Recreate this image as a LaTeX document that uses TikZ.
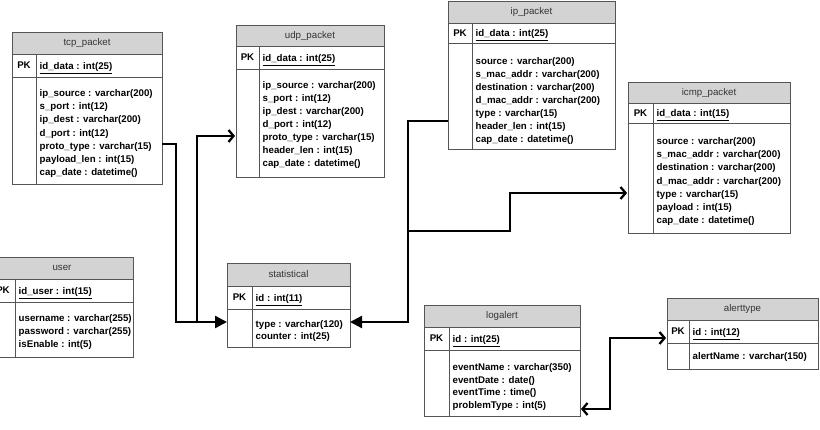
\documentclass[tikz,border=0pt]{standalone}
\usepackage{fontspec}
\setmainfont{Liberation Sans}
\usetikzlibrary{arrows.meta}
\definecolor{hdr}{HTML}{D3D3D3}
\definecolor{edgec}{HTML}{555555}
\tikzset{
  tabline/.style={draw=edgec, line width=0.9pt},
  hdrfill/.style={fill=hdr},
  ttl/.style={font=\fontsize{9.7}{11}\selectfont, text=black!80, inner sep=0pt},
  pklbl/.style={font=\bfseries\fontsize{9.7}{11}\selectfont, inner sep=0pt},
  keytxt/.style={font=\bfseries\fontsize{9.7}{11}\selectfont, inner sep=0pt, anchor=base west},
  attrtxt/.style={font=\bfseries\fontsize{9.7}{11}\selectfont, inner sep=0pt, anchor=base west},
  conn/.style={line width=2.3pt, black},
  filledarr/.style={-{Triangle[length=12pt,width=12pt]}},
  openarr/.style={-{Straight Barb[length=5pt,width=12pt]}},
  openboth/.style={{Straight Barb[length=5pt,width=12pt]}-{Straight Barb[length=5pt,width=12pt]}},
}
% #1 name, #2 left, #3 top, #4 right, #5 header bottom, #6 pk bottom, #7 bottom, #8 divider, #9 title
\newcommand\ertab[9]{%
  \fill[hdrfill] (#2,#3) rectangle (#4,#5);
  \draw[tabline] (#2,#3) rectangle (#4,#7);
  \draw[tabline] (#2,#5) -- (#4,#5) (#2,#6) -- (#4,#6) (#8,#5) -- (#8,#7);
  \node[ttl] (#1) at ({(#2+#4)/2},{(#3+#5)/2}) {#9};
  \node[pklbl] (#1-pk) at ({(#2+#8)/2},{(#5+#6)/2}) {PK};
}
% #1 name, #2 x, #3 first baseline, #4 line step, #5 lines
\newcommand\attrlines[5]{%
  \foreach \t [count=\i from 0] in {#5} {%
    \node[attrtxt] (#1-a\i) at (#2,{#3+\i*#4}) {\t};
  }%
}
\begin{document}
\begin{tikzpicture}[x=1pt,y=-1pt]
\useasboundingbox (0,0) rectangle (820,430);

% tcp_packet
\ertab{tcp}{12}{32}{162}{54}{77}{184}{36}{tcp\_packet}
\node[keytxt] (tcp-key) at (39.5,69.5) {\underline{id\_data : int(25)}};
\attrlines{tcp}{39.5}{96.5}{13.17}{ip\_source : varchar(200),s\_port : int(12),ip\_dest : varchar(200),d\_port : int(12),proto\_type : varchar(15),payload\_len : int(15),cap\_date : datetime()}

% udp_packet
\ertab{udp}{236}{25}{384}{46}{69}{177}{259}{udp\_packet}
\node[keytxt] (udp-key) at (262.5,61.5) {\underline{id\_data : int(25)}};
\attrlines{udp}{262.5}{88.5}{13}{ip\_source : varchar(200),s\_port : int(12),ip\_dest : varchar(200),d\_port : int(12),proto\_type : varchar(15),header\_len : int(15),cap\_date : datetime()}

% ip_packet
\ertab{ip}{448}{1}{615}{23}{43}{149}{472}{ip\_packet}
\node[keytxt] (ip-key) at (475.5,36.5) {\underline{id\_data : int(25)}};
\attrlines{ip}{475.5}{64.5}{13}{source : varchar(200),s\_mac\_addr : varchar(200),destination : varchar(200),d\_mac\_addr : varchar(200),type : varchar(15),header\_len : int(15),cap\_date : datetime()}

% icmp_packet
\ertab{icmp}{628}{82}{790}{103}{123}{233}{653}{icmp\_packet}
\node[keytxt] (icmp-key) at (656.5,116.5) {\underline{id\_data : int(15)}};
\attrlines{icmp}{656.5}{144.5}{13.17}{source : varchar(200),s\_mac\_addr : varchar(200),destination : varchar(200),d\_mac\_addr : varchar(200),type : varchar(15),payload : int(15),cap\_date : datetime()}

% user
\ertab{user}{-9}{257}{133}{279}{302}{357}{15}{user}
\node[keytxt] (user-key) at (18.5,294.5) {\underline{id\_user : int(15)}};
\attrlines{user}{18.5}{321.5}{13}{username : varchar(255),password : varchar(255),isEnable : int(5)}

% statistical
\ertab{stat}{227}{263}{350}{286}{309}{347}{252}{statistical}
\node[keytxt] (stat-key) at (255.5,301.5) {\underline{id : int(11)}};
\attrlines{stat}{255.5}{327.5}{12.5}{type : varchar(120),counter : int(25)}

% logalert
\ertab{log}{424}{305}{580}{327}{350}{416}{449}{logalert}
\node[keytxt] (log-key) at (452.5,342.5) {\underline{id : int(25)}};
\attrlines{log}{452.5}{370.5}{12.7}{eventName : varchar(350),eventDate : date(),eventTime : time(),problemType : int(5)}

% alerttype
\ertab{alert}{667}{298}{818}{320}{343}{369}{689}{alerttype}
\node[keytxt] (alert-key) at (692.5,335.5) {\underline{id : int(12)}};
\attrlines{alert}{692.5}{359.5}{13}{alertName : varchar(150)}

% connector end points
\coordinate (tcp-out) at (162,144);
\coordinate (stat-inL) at (227,322);
\coordinate (j1) at (197,322);
\coordinate (udp-in) at (235,136);
\coordinate (ip-out) at (448,121);
\coordinate (j2) at (408,322);
\coordinate (stat-inR) at (350,322);
\coordinate (j3) at (408,231);
\coordinate (icmp-in) at (627,193);
\coordinate (log-out) at (581,409);
\coordinate (alert-in) at (666,338);

% connectors
\draw[conn, filledarr] (tcp-out) -- (176,144) |- (stat-inL);
\draw[conn, openarr] (j1) |- (udp-in);
\draw[conn, filledarr] (ip-out) -| (j2) -- (stat-inR);
\draw[conn, openarr] (j3) -- (510,231) |- (icmp-in);
\draw[conn, openboth] (log-out) -- (610,409) |- (alert-in);
\end{tikzpicture}
\end{document}
